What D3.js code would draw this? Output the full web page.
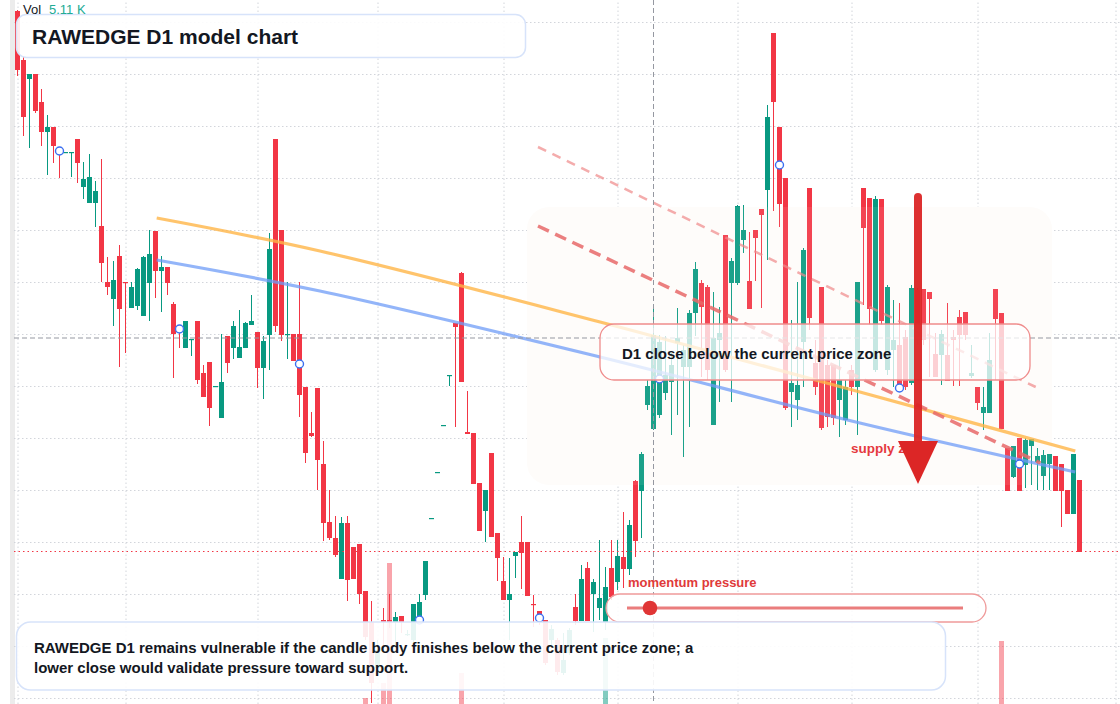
<!DOCTYPE html>
<html>
<head>
<meta charset="utf-8">
<script src="https://d3js.org/d3.v7.min.js"></script>
<style>
  body { margin: 0; background: #fff; }
  svg { display: block; font-family: "Liberation Sans", Arial, sans-serif; }
</style>
</head>
<body>
<div id="chart"></div>
<script>
// Candle data, one entry per daily bar (price units)
const opens = [
  69.3, 64.4, 62.5, 63.0, 60.2, 57.2, 57.7, 55.5, 55.1, 55.1,
  56.5, 51.7, 50.1, 50.1, 47.8, 42.2, 40.5, 44.8, 42.2, 39.6,
  39.8, 38.8, 42.1, 47.3, 43.3, 43.7, 40.0, 37.6, 35.6, 36.4,
  38.3, 33.1, 34.2, 31.7, 28.6, 36.8, 35.6, 34.6, 35.6, 37.9,
  37.2, 33.6, 36.9, 56.5, 47.4, 36.9, 37.0, 37.0, 31.7, 27.1,
  31.6, 24.0, 18.2, 16.6, 12.5, 18.1, 15.7, 16.0, 11.3, 8.2,
  3.6, 8.4, 8.4, 8.2, 8.8, 6.9, 6.4, 8.7, 10.9, 18.5,
  23.1, 27.8, 32.8, 38.1, 43.1, 27.2, 27.1, 22.1, 19.3, 25.1,
  17.1, 12.3, 10.4, 14.8, 16.2, 16.2, 10.0, 9.3, 8.4, 6.4,
  6.4, 3.1, 5.1, 9.7, 8.3, 13.6, 11.0, 9.6, 8.2, 13.6,
  12.2, 14.7, 13.5, 22.3, 21.3, 29.9, 27.5, 28.9, 31.1, 32.2,
  36.1, 33.7, 33.7, 39.1, 42.1, 41.7, 27.9, 36.4, 46.9, 42.1,
  42.1, 46.4, 42.3, 47.4, 49.5, 51.4, 67.1, 57.7, 52.6, 31.2,
  30.4, 36.2, 51.6, 34.1, 41.7, 33.9, 33.9, 30.4, 28.4, 33.4,
  31.7, 51.6, 50.6, 33.4, 50.5, 33.4, 35.4, 35.9, 36.7, 32.1,
  41.4, 41.5, 41.2, 35.0, 34.9, 34.9, 36.7, 38.7, 39.2, 32.8,
  31.7, 29.1, 29.1, 41.5, 39.1, 25.6, 22.7, 26.6, 23.9, 25.8,
  24.2, 22.8, 24.0, 24.8, 24.0, 21.4, 19.0, 22.4
];
const highs = [
  69.4, 64.7, 63.0, 63.0, 61.5, 58.9, 57.7, 55.5, 55.2, 55.2,
  56.5, 54.2, 55.0, 52.3, 54.5, 44.7, 44.3, 45.9, 42.2, 42.2,
  43.6, 44.8, 47.4, 47.3, 44.8, 43.7, 40.2, 37.6, 38.3, 36.5,
  38.3, 33.9, 34.2, 31.8, 37.0, 36.8, 38.3, 39.4, 38.2, 40.9,
  37.2, 36.8, 47.1, 56.5, 47.4, 42.2, 37.0, 42.2, 31.7, 29.2,
  31.6, 26.3, 21.4, 18.8, 18.7, 18.8, 15.7, 16.0, 11.3, 10.3,
  6.4, 9.6, 11.0, 9.2, 8.8, 7.4, 10.0, 11.0, 14.3, 18.6,
  23.2, 27.9, 32.9, 38.1, 43.2, 31.3, 27.1, 22.1, 21.4, 25.1,
  17.1, 14.7, 14.6, 15.2, 18.8, 16.2, 10.9, 9.3, 8.4, 7.9,
  6.6, 7.1, 7.6, 11.0, 13.9, 14.2, 12.5, 16.4, 13.7, 16.4,
  16.4, 19.2, 18.4, 22.4, 25.2, 32.4, 39.7, 36.9, 36.8, 35.1,
  39.6, 35.9, 39.4, 44.2, 42.4, 41.9, 41.2, 39.7, 46.9, 44.6,
  49.9, 49.9, 47.2, 47.4, 49.5, 59.9, 67.1, 57.7, 52.6, 38.4,
  42.2, 45.6, 51.6, 36.4, 41.7, 34.4, 33.9, 34.4, 32.4, 33.9,
  42.2, 51.6, 50.6, 50.8, 50.5, 41.9, 40.4, 40.1, 37.4, 41.9,
  41.6, 41.5, 41.2, 37.1, 37.4, 40.1, 37.4, 39.4, 39.2, 35.9,
  31.7, 31.7, 37.1, 41.5, 39.1, 25.6, 25.8, 26.6, 26.6, 26.5,
  25.6, 25.4, 25.0, 24.8, 24.0, 21.4, 25.0, 22.4
];
const lows = [
  62.8, 56.8, 55.6, 59.1, 55.8, 52.9, 54.1, 52.6, 55.1, 52.7,
  52.1, 50.5, 50.1, 47.7, 42.2, 40.9, 37.8, 33.7, 35.1, 39.6,
  39.4, 38.8, 38.3, 40.6, 39.2, 40.9, 32.6, 35.6, 35.6, 34.8,
  32.0, 30.7, 27.8, 31.7, 28.6, 33.1, 34.5, 34.6, 35.6, 37.9,
  31.6, 30.5, 33.4, 37.2, 36.3, 34.5, 34.3, 28.7, 24.1, 26.7,
  21.4, 16.3, 16.4, 14.7, 12.5, 10.3, 12.5, 10.0, 6.4, 0.1,
  3.2, 5.4, 7.6, 5.9, 7.1, 6.8, 6.2, 8.2, 10.4, 18.5,
  23.1, 27.8, 31.8, 27.7, 32.2, 27.0, 22.0, 17.3, 16.2, 16.7,
  12.3, 10.4, 6.4, 12.6, 11.5, 10.8, 7.7, 7.9, 3.9, 5.9,
  2.9, 2.9, 4.9, 7.9, 8.3, 8.3, 7.2, 8.4, 7.4, 10.4,
  11.4, 11.6, 12.9, 14.7, 16.6, 29.4, 27.4, 28.6, 30.4, 26.9,
  28.9, 24.7, 27.7, 36.8, 32.7, 32.4, 27.9, 30.2, 33.2, 30.2,
  41.9, 45.1, 39.5, 42.3, 39.6, 44.4, 49.3, 47.7, 29.4, 27.7,
  28.4, 31.7, 37.4, 30.9, 27.4, 27.7, 27.9, 26.7, 27.9, 30.9,
  26.9, 39.9, 37.9, 33.2, 37.9, 32.9, 31.7, 31.6, 31.4, 31.9,
  35.9, 35.9, 32.7, 32.7, 31.9, 32.3, 31.8, 31.8, 36.4, 32.6,
  29.4, 27.4, 29.1, 32.4, 27.5, 21.3, 22.6, 21.3, 21.6, 21.9,
  21.4, 21.4, 21.4, 21.3, 17.7, 19.0, 19.0, 15.2
];
const closes = [
  63.4, 58.7, 63.0, 59.3, 57.2, 57.7, 55.8, 55.2, 55.2, 55.2,
  54.1, 52.5, 52.7, 51.3, 44.1, 41.7, 42.4, 39.5, 42.1, 41.7,
  43.5, 44.7, 45.0, 43.3, 43.7, 42.1, 37.0, 37.3, 38.3, 36.5,
  32.4, 30.7, 29.6, 31.8, 32.2, 34.1, 37.8, 35.7, 38.1, 38.3,
  33.6, 36.3, 45.5, 37.8, 36.9, 37.0, 34.3, 30.9, 25.1, 26.8,
  24.4, 18.1, 16.6, 14.9, 18.1, 12.4, 12.5, 11.0, 6.7, 2.1,
  5.4, 8.2, 8.2, 8.7, 8.2, 7.0, 10.0, 10.2, 14.3, 18.6,
  23.2, 27.9, 32.9, 37.7, 32.2, 27.0, 22.0, 17.3, 21.4, 16.7,
  14.6, 10.4, 11.0, 15.2, 15.1, 10.8, 9.9, 9.0, 4.1, 7.5,
  3.2, 4.4, 7.4, 8.3, 12.5, 8.3, 12.2, 10.6, 11.7, 10.7,
  14.8, 13.5, 17.9, 16.3, 25.0, 31.8, 36.9, 36.2, 32.9, 33.9,
  36.6, 35.4, 39.1, 43.5, 39.7, 33.4, 36.6, 37.1, 33.4, 44.3,
  49.8, 47.4, 39.5, 46.6, 48.9, 58.7, 60.2, 50.0, 29.6, 32.1,
  31.9, 45.4, 38.6, 31.7, 27.6, 28.7, 28.6, 32.4, 31.7, 31.7,
  42.2, 47.6, 39.5, 50.5, 38.3, 41.7, 36.4, 31.9, 31.7, 41.6,
  36.4, 36.4, 40.5, 32.7, 37.0, 32.3, 36.4, 36.9, 36.9, 33.1,
  30.1, 29.7, 34.4, 38.5, 27.5, 21.3, 25.8, 21.3, 26.4, 26.5,
  24.8, 24.9, 25.0, 21.3, 21.3, 19.0, 25.0, 15.2
];

// Volume (K) only where a bar is visible
const volIdx = [58, 61, 62, 74, 98, 164];
const volK = [0.6, 2.1, 14.1, 3.1, 6.6, 6.3];

// Hollow marker points (bar index, price)
const markIdx = [7, 27, 47, 67, 87, 107, 127, 147, 167];
const markVal = [55.3, 37.5, 34.0, 8.4, 8.6, 32.5, 53.9, 31.6, 24.0];

// Curved projection lines (bar index, price)
const orangeIdx = [23.2, 50.4, 97.1, 140.4, 176.3];
const orangeVal = [48.6, 45.3, 38.2, 31.2, 25.3];
const blueIdx = [23.2, 50.4, 97.1, 140.4, 176.3];
const blueVal = [44.4, 41.3, 34.7, 28.1, 23.2];

// Dashed channel lines [start, end]
const upperDashIdx = [86.75, 169.7];
const upperDashVal = [55.7, 31.7];
const lowerDashIdx = [86.75, 170.5];
const lowerDashVal = [47.8, 24.1];

// Reference levels
const crossIdx = 106;
const crossVal = 36.6;
const supportVal = 15.3;

// Grid
const gridIdx = [0, 18, 40, 60, 81, 100, 120, 139, 160, 183];
const gridVal = [68.2, 63.0, 57.8, 52.6, 47.4, 42.2, 37.0, 31.8, 26.6, 21.4, 16.2, 11.0, 5.8, 0.6];

const W = 1120, H = 704;
const UP = "#089981", DOWN = "#f23645";

const svg = d3.select("#chart").append("svg")
    .attr("width", W)
    .attr("height", H)
    .style("background", "#fff");

const x = d3.scaleLinear().domain([0, opens.length - 1]).range([17.5, 1079.5]);
const y = d3.scaleLinear().domain([0, 70.4]).range([H, 0]);
const yVol = d3.scaleLinear().domain([0, 20]).range([H, H - 200]);

// left strip
svg.append("rect").attr("x", 10).attr("y", 0).attr("width", 5).attr("height", H).attr("fill", "#ececec");

// vertical grid
const gx = svg.append("g")
    .attr("transform", `translate(0,${H})`)
    .call(d3.axisBottom(x).tickValues(gridIdx).tickSizeInner(-H).tickSizeOuter(0).tickFormat(""));
gx.select(".domain").remove();
gx.selectAll(".tick line").attr("stroke", "#d2d5db").attr("stroke-dasharray", "1.5,2.5");

// horizontal grid
const gy = svg.append("g")
    .attr("transform", `translate(14,0)`)
    .call(d3.axisLeft(y).tickValues(gridVal).tickSizeInner(-(W - 14)).tickSizeOuter(0).tickFormat(""));
gy.select(".domain").remove();
gy.selectAll(".tick line").attr("stroke", "#d2d5db").attr("stroke-dasharray", "1.5,2.5");

// shaded zone behind price
svg.append("rect")
    .attr("x", 527).attr("y", 207).attr("width", 525).attr("height", 278)
    .attr("rx", 22)
    .attr("fill", "#fefcfa");

// volume
svg.append("g").selectAll("rect")
    .data(volIdx.map((d, k) => ({ i: d, v: volK[k] })))
    .join("rect")
    .attr("x", d => x(d.i) - 2.5)
    .attr("width", 5)
    .attr("y", d => yVol(d.v))
    .attr("height", d => H - yVol(d.v))
    .attr("fill", d => closes[d.i] >= opens[d.i] ? "rgba(8,153,129,0.5)" : "rgba(242,54,69,0.45)");

// candles
const candles = opens.map((o, i) => ({ i, o, h: highs[i], l: lows[i], c: closes[i] }));
const cg = svg.append("g");
cg.selectAll("line")
    .data(candles)
    .join("line")
    .attr("x1", d => x(d.i)).attr("x2", d => x(d.i))
    .attr("y1", d => y(d.h)).attr("y2", d => y(d.l))
    .attr("stroke", d => d.c >= d.o ? UP : DOWN)
    .attr("stroke-width", 1);
cg.selectAll("rect")
    .data(candles)
    .join("rect")
    .attr("x", d => x(d.i) - 2.5)
    .attr("width", 5)
    .attr("y", d => y(Math.max(d.o, d.c)))
    .attr("height", d => Math.max(1.2, Math.abs(y(d.o) - y(d.c))))
    .attr("fill", d => d.c >= d.o ? UP : DOWN);

// light veil of the zone over the candles
svg.append("rect")
    .attr("x", 527).attr("y", 207).attr("width", 525).attr("height", 278)
    .attr("rx", 22)
    .attr("fill", "#fff").attr("opacity", 0.08);

// projection curves
const curve = d3.line().x(d => x(d[0])).y(d => y(d[1])).curve(d3.curveCatmullRom);
svg.append("path")
    .attr("d", curve(orangeIdx.map((d, k) => [d, orangeVal[k]])))
    .attr("fill", "none").attr("stroke", "#ffb547").attr("stroke-width", 3.2).attr("opacity", 0.8);
svg.append("path")
    .attr("d", curve(blueIdx.map((d, k) => [d, blueVal[k]])))
    .attr("fill", "none").attr("stroke", "#6f9cf7").attr("stroke-width", 3.2).attr("opacity", 0.75);

// dashed channel lines
svg.append("line")
    .attr("x1", x(upperDashIdx[0])).attr("y1", y(upperDashVal[0]))
    .attr("x2", x(upperDashIdx[1])).attr("y2", y(upperDashVal[1]))
    .attr("stroke", "#f08a8a").attr("stroke-width", 2.5).attr("stroke-dasharray", "9,7").attr("opacity", 0.7);
svg.append("line")
    .attr("x1", x(lowerDashIdx[0])).attr("y1", y(lowerDashVal[0]))
    .attr("x2", x(lowerDashIdx[1])).attr("y2", y(lowerDashVal[1]))
    .attr("stroke", "#e86a6a").attr("stroke-width", 3.5).attr("stroke-dasharray", "12,7").attr("opacity", 0.85);

// crosshair and support level
svg.append("line")
    .attr("x1", 14).attr("x2", W).attr("y1", y(crossVal)).attr("y2", y(crossVal))
    .attr("stroke", "#9598a1").attr("stroke-dasharray", "5,3");
svg.append("line")
    .attr("x1", x(crossIdx)).attr("x2", x(crossIdx)).attr("y1", 0).attr("y2", H)
    .attr("stroke", "#9598a1").attr("stroke-dasharray", "5,3");
svg.append("line")
    .attr("x1", 14).attr("x2", W).attr("y1", y(supportVal) + 0.5).attr("y2", y(supportVal) + 0.5)
    .attr("stroke", DOWN).attr("stroke-dasharray", "1.5,3");

// markers
svg.append("g").selectAll("circle")
    .data(markIdx.map((d, k) => ({ i: d, v: markVal[k] })))
    .join("circle")
    .attr("cx", d => x(d.i)).attr("cy", d => y(d.v)).attr("r", 4)
    .attr("fill", "#fff").attr("stroke", "#3b6ff0").attr("stroke-width", 1.4);

// annotation box
svg.append("rect")
    .attr("x", 600).attr("y", 324).attr("width", 430).attr("height", 56).attr("rx", 14)
    .attr("fill", "rgba(255,255,255,0.75)").attr("stroke", "#ef8c8c").attr("stroke-width", 1.3);
svg.append("text")
    .attr("x", 622).attr("y", 359)
    .attr("font-size", 15).attr("font-weight", "bold").attr("fill", "#131722")
    .text("D1 close below the current price zone");

// supply zone label + arrow
svg.append("text")
    .attr("x", 851).attr("y", 453)
    .attr("font-size", 13.5).attr("font-weight", "bold").attr("fill", "#e5393e")
    .text("supply zone");
svg.append("line")
    .attr("x1", 918).attr("x2", 918).attr("y1", 197).attr("y2", 446)
    .attr("stroke", "#dc2626").attr("stroke-width", 8).attr("stroke-linecap", "round").attr("opacity", 0.95);
svg.append("path")
    .attr("d", "M898,441 L938,441 L918,484 Z")
    .attr("fill", "#dc2626");

// momentum slider
svg.append("text")
    .attr("x", 628).attr("y", 587)
    .attr("font-size", 13).attr("font-weight", "bold").attr("fill", "#e03a3a")
    .text("momentum pressure");
svg.append("rect")
    .attr("x", 606).attr("y", 594).attr("width", 380).attr("height", 28).attr("rx", 14)
    .attr("fill", "rgba(255,255,255,0.85)").attr("stroke", "#ef9a9a").attr("stroke-width", 1.3);
svg.append("line")
    .attr("x1", 627).attr("x2", 963).attr("y1", 608).attr("y2", 608)
    .attr("stroke", "#ea7d7d").attr("stroke-width", 3);
svg.append("circle")
    .attr("cx", 650).attr("cy", 608).attr("r", 7.3).attr("fill", "#e03535");

// bottom commentary
svg.append("rect")
    .attr("x", 16.5).attr("y", 622).attr("width", 929).attr("height", 68).attr("rx", 14)
    .attr("fill", "rgba(255,255,255,0.9)").attr("stroke", "#d7e3fa").attr("stroke-width", 1.5);
const note = svg.append("text")
    .attr("font-size", 15).attr("font-weight", "bold").attr("fill", "#131722");
note.append("tspan").attr("x", 34).attr("y", 653)
    .text("RAWEDGE D1 remains vulnerable if the candle body finishes below the current price zone; a");
note.append("tspan").attr("x", 34).attr("y", 673)
    .text("lower close would validate pressure toward support.");

// title
svg.append("rect")
    .attr("x", 16.5).attr("y", 14.5).attr("width", 509).attr("height", 43).attr("rx", 10)
    .attr("fill", "rgba(255,255,255,0.9)").attr("stroke", "#d7e3fa").attr("stroke-width", 1.5);
svg.append("text")
    .attr("x", 32).attr("y", 43.5)
    .attr("font-size", 21).attr("font-weight", "bold").attr("fill", "#131722")
    .text("RAWEDGE D1 model chart");

// volume legend
svg.append("text").attr("x", 23).attr("y", 13.5).attr("font-size", 13).attr("fill", "#131722").text("Vol");
svg.append("text").attr("x", 49).attr("y", 13.5).attr("font-size", 13).attr("fill", "#22ab94").text("5.11 K");
</script>
</body>
</html>
